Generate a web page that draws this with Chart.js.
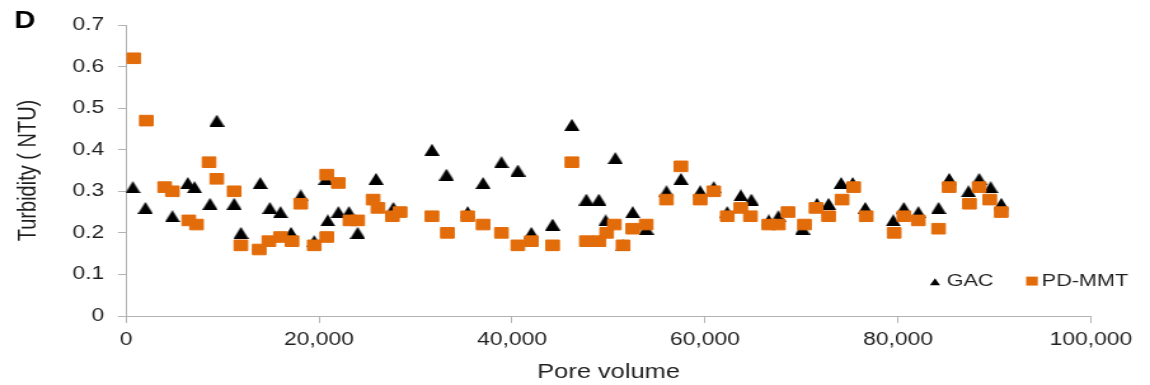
<!DOCTYPE html>
<html><head><meta charset="utf-8">
<script src="https://cdn.jsdelivr.net/npm/chart.js@4.4.1/dist/chart.umd.min.js"></script>
<style>html,body{margin:0;padding:0;background:#fff;overflow:hidden}canvas{display:block}</style>
</head><body>
<canvas id="c" width="905" height="385" style="width:1150px;height:385px"></canvas>
<script>
// ---- data ----
const panelLabel = 'D';
const xTitle = 'Pore volume';
const yTitle = 'Turbidity ( NTU)';
const seriesNames = ['GAC', 'PD-MMT'];
const xTicks = [0, 20000, 40000, 60000, 80000, 100000];
const yTicks = [0, 0.1, 0.2, 0.3, 0.4, 0.5, 0.6, 0.7];

const gacX = [700, 2000, 4800, 6400, 7100, 8700, 9400, 11200, 11900, 13900, 14900, 16000, 17100, 18100, 19500, 20700, 20900, 22000, 23100, 24000, 25900, 27700, 31700, 33200, 35400, 37000, 38900, 40600, 42000, 44200, 46200, 47700, 49000, 49700, 50700, 51500, 52500, 53900, 56000, 57500, 59500, 60900, 62300, 63700, 64800, 66600, 67600, 70100, 71600, 72800, 74100, 75300, 76600, 79500, 80600, 82100, 84200, 85300, 87300, 88400, 89600, 90700];
const gacY = [0.31, 0.26, 0.24, 0.32, 0.31, 0.27, 0.47, 0.27, 0.20, 0.32, 0.26, 0.25, 0.20, 0.29, 0.18, 0.33, 0.23, 0.25, 0.25, 0.20, 0.33, 0.26, 0.40, 0.34, 0.25, 0.32, 0.37, 0.35, 0.20, 0.22, 0.46, 0.28, 0.28, 0.23, 0.38, 0.17, 0.25, 0.21, 0.30, 0.33, 0.30, 0.31, 0.25, 0.29, 0.28, 0.23, 0.24, 0.21, 0.27, 0.27, 0.32, 0.32, 0.26, 0.23, 0.26, 0.25, 0.26, 0.33, 0.30, 0.33, 0.31, 0.27];

const pdX = [800, 2100, 4000, 4800, 6500, 7300, 8600, 9400, 11200, 11900, 13800, 14800, 16000, 17200, 18100, 19500, 20800, 20800, 22000, 23200, 24000, 25600, 26100, 27600, 28400, 31700, 33300, 35400, 37000, 38900, 40600, 42000, 44200, 46200, 47700, 49000, 49800, 50600, 51500, 52500, 53900, 56000, 57500, 59500, 60900, 62300, 63700, 64700, 66600, 67600, 68600, 70300, 71500, 72800, 74200, 75400, 76700, 79600, 80600, 82100, 84200, 85300, 87400, 88400, 89500, 90700];
const pdY = [0.62, 0.47, 0.31, 0.30, 0.23, 0.22, 0.37, 0.33, 0.30, 0.17, 0.16, 0.18, 0.19, 0.18, 0.27, 0.17, 0.19, 0.34, 0.32, 0.23, 0.23, 0.28, 0.26, 0.24, 0.25, 0.24, 0.20, 0.24, 0.22, 0.20, 0.17, 0.18, 0.17, 0.37, 0.18, 0.18, 0.20, 0.22, 0.17, 0.21, 0.22, 0.28, 0.36, 0.28, 0.30, 0.24, 0.26, 0.24, 0.22, 0.22, 0.25, 0.22, 0.26, 0.24, 0.28, 0.31, 0.24, 0.20, 0.24, 0.23, 0.21, 0.31, 0.27, 0.31, 0.28, 0.25];

// ---- styling ----
const ORANGE = '#E36C0A';
const AXIS = '#b3b3b3';
const TEXT = '#1f1f1f';
const FONT = '"Liberation Sans", Arial, sans-serif';

function triangleMarker(w, h, color) {
  const c = document.createElement('canvas');
  c.width = w; c.height = h;
  const g = c.getContext('2d');
  g.fillStyle = color;
  g.beginPath(); g.moveTo(w / 2, 0); g.lineTo(w, h); g.lineTo(0, h); g.closePath(); g.fill();
  return c;
}
const triImg = triangleMarker(12, 12, '#000');

const toPts = (xs, ys) => xs.map((x, i) => ({ x: x, y: ys[i] }));

const overlay = {
  id: 'overlay',
  afterDraw(chart) {
    const ctx = chart.ctx;
    ctx.save();
    ctx.fillStyle = '#000';
    ctx.textAlign = 'left';
    ctx.textBaseline = 'alphabetic';
    ctx.font = 'bold 23px ' + FONT;
    ctx.fillText(panelLabel, 11.2, 27.5);
    // legend
    const base = 285.6;
    ctx.fillStyle = '#000';
    ctx.beginPath();
    ctx.moveTo(735.8, base - 7.3); ctx.lineTo(739.8, base - 0.3); ctx.lineTo(731.8, base - 0.3); ctx.closePath(); ctx.fill();
    ctx.font = '17px ' + FONT;
    ctx.fillStyle = TEXT;
    ctx.fillText(seriesNames[0], 745, base);
    ctx.fillStyle = ORANGE;
    ctx.fillRect(812.1 - 4.6, base - 9, 9.2, 9);
    ctx.fillStyle = TEXT;
    ctx.fillText(seriesNames[1], 819.8, base);
    ctx.restore();
  }
};

new Chart(document.getElementById('c'), {
  type: 'scatter',
  data: {
    datasets: [
      { label: seriesNames[0], data: toPts(gacX, gacY), pointStyle: triImg, pointRadius: 6, order: 1,
        backgroundColor: '#000', borderColor: '#000' },
      { label: seriesNames[1], data: toPts(pdX, pdY), pointStyle: 'rect', pointRadius: 7.5, pointBorderWidth: 1, order: 0,
        backgroundColor: ORANGE, borderColor: ORANGE }
    ]
  },
  options: {
    responsive: false,
    animation: false,
    devicePixelRatio: 1,
    layout: { padding: { left: 0, right: 46.4, top: 25, bottom: 0 } },
    plugins: { legend: { display: false }, tooltip: { enabled: false } },
    scales: {
      x: {
        type: 'linear', min: 0, max: 100000,
        afterBuildTicks: s => { s.ticks = xTicks.map(v => ({ value: v })); },
        afterFit: s => { s.height = 69; },
        grid: { drawOnChartArea: false, drawTicks: true, tickLength: 7, color: AXIS, lineWidth: 1 },
        border: { color: AXIS, width: 1 },
        ticks: { color: TEXT, font: { size: 18, family: FONT }, padding: 6, maxRotation: 0,
                 callback: v => Number(v).toLocaleString('en-US') },
        title: { display: true, text: xTitle, color: TEXT, font: { size: 20, family: FONT }, padding: { top: 0, bottom: 1 } }
      },
      y: {
        type: 'linear', min: 0, max: 0.7,
        afterBuildTicks: s => { s.ticks = yTicks.map(v => ({ value: v })); },
        afterFit: s => { s.width = 99.2; },
        grid: { drawOnChartArea: false, drawTicks: true, tickLength: 6.3, color: AXIS, lineWidth: 1 },
        border: { color: AXIS, width: 1 },
        ticks: { color: TEXT, font: { size: 18, family: FONT }, padding: 11,
                 callback: v => (v === 0 ? '0' : Number(v).toFixed(1)) },
        title: { display: true, text: yTitle, color: TEXT, font: { size: 20, family: FONT }, padding: { top: 10.5, bottom: 0 } }
      }
    }
  },
  plugins: [overlay]
});
</script>
</body></html>
